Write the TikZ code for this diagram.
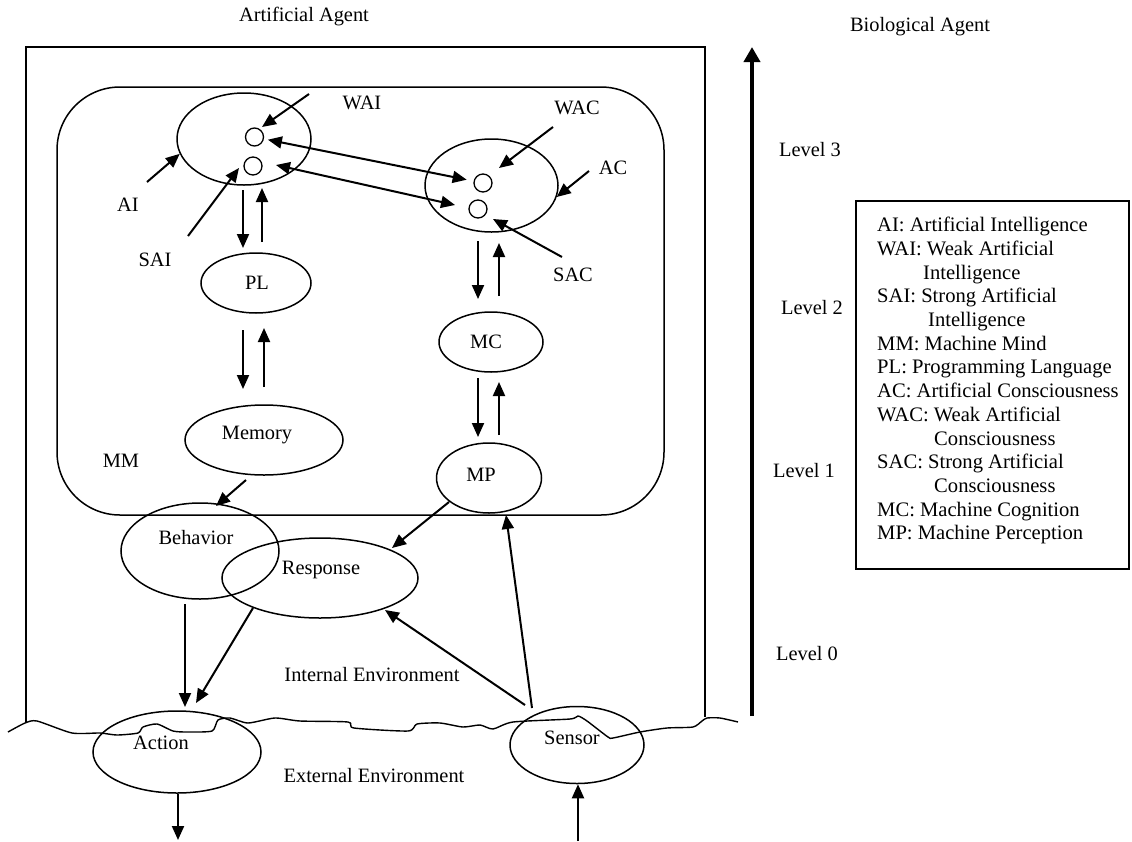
\documentclass[tikz,border=0pt]{standalone}
\usepackage{fontspec}
\setmainfont{Liberation Serif}
\usetikzlibrary{shapes.geometric,arrows.meta}
\begin{document}
\begin{tikzpicture}[x=1pt,y=-1pt,
  every node/.style={font=\fontsize{20.4}{24}\selectfont, inner sep=0pt},
  ell/.style={draw, ellipse, line width=1.5pt, inner sep=0pt},
  sm/.style={draw, circle, line width=1.3pt, minimum size=18pt, inner sep=0pt},
  arr/.style={line width=2pt, -{Triangle[length=14pt,width=12pt]}},
  darr/.style={line width=2pt, {Triangle[length=14pt,width=12pt]}-{Triangle[length=14pt,width=12pt]}},
  frame/.style={line width=1.3pt},
  bigarr/.style={line width=4.5pt, -{Triangle[length=15pt,width=16pt]}}]
\useasboundingbox (0,0) rectangle (1132,841);

% outer frame (open at bottom) and machine-mind box
\draw[frame] (26,723) -- (26,47) -- (705,47) -- (705,717);
\draw[line width=1.5pt, rounded corners=63pt] (57,87) rectangle (664,515);

% environment boundary
\draw[line width=1.4pt] plot[smooth, tension=0.4] coordinates {(8,732) (25,723) (37,721) (72,733) (100,733) (117,735) (138,733) (143,727) (157,724) (173,731) (187,732) (212,731) (218,720) (230,718) (248,723) (275,718) (300,721) (348,722) (354,728) (408,731) (417,724) (440,723) (463,727) (480,725) (493,729) (513,722) (570,719) (578,716) (587,721) (608,737) (613,738) (640,732) (667,728) (693,727) (702,721) (707,718) (720,718) (738,722)};

% titles
\node (tA) at (304,17) {Artificial Agent};
\node (tB) at (920,27) {Biological Agent};

% ellipses
\node[ell, minimum width=134pt, minimum height=92pt] (wai) at (244,139) {};
\node[ell, minimum width=133pt, minimum height=93pt] (wac) at (491.5,185.5) {};
\node[ell, minimum width=110pt, minimum height=60pt] (pl) at (256,283) {};
\node[ell, minimum width=104pt, minimum height=60pt] (mc) at (491,342) {};
\node[ell, minimum width=158pt, minimum height=70pt] (mem) at (264,440) {};
\node[ell, minimum width=105pt, minimum height=70pt] (mp) at (489,478) {};
\node[ell, minimum width=158pt, minimum height=96pt] (beh) at (200,551) {};
\node[ell, minimum width=196pt, minimum height=80pt] (resp) at (320,578) {};
\node[ell, minimum width=168pt, minimum height=82pt] (act) at (177,752) {};
\node[ell, minimum width=134pt, minimum height=77pt] (sen) at (577,745) {};

% small circles
\node[sm] (c1) at (254.5,137) {};
\node[sm] (c2) at (253,166) {};
\node[sm] (c3) at (483,183) {};
\node[sm] (c4) at (478,209) {};

% texts in nodes
\node (tPL) at (257,283) {PL};
\node (tMC) at (486,342) {MC};
\node (tMem) at (257,435) {Memory};
\node (tMP) at (481,475) {MP};
\node (tBeh) at (196,538) {Behavior};
\node (tResp) at (321,570) {Response};
\node (tAct) at (161,743) {Action};
\node (tSen) at (572,738) {Sensor};

% free labels
\node (lWAI) at (362,103) {WAI};
\node (lAI) at (128,205) {AI};
\node (lSAI) at (155,260) {SAI};
\node (lWAC) at (577,108) {WAC};
\node (lAC) at (613,168) {AC};
\node (lSAC) at (573,275) {SAC};
\node (lMM) at (121,461) {MM};
\node (lIE) at (372,675) {Internal Environment};
\node (lEE) at (374,776) {External Environment};

% levels
\draw[bigarr] (752,716) coordinate (lv0) -- (752,47) coordinate (lv3);
\node (L3) at (810,150) {Level 3};
\node (L2) at (812,308) {Level 2};
\node (L1) at (804,471) {Level 1};
\node (L0) at (807,654) {Level 0};

% legend
\draw[frame] (856,201) rectangle (1129,569);
\node[anchor=north west, align=left, font=\fontsize{20.6}{23.7}\selectfont] (leg) at (877,217) {%
AI: Artificial Intelligence\\
WAI: Weak Artificial\\
\hspace*{46pt}Intelligence\\
SAI: Strong Artificial\\
\hspace*{51pt}Intelligence\\
MM: Machine Mind\\
PL: Programming Language\\
AC: Artificial Consciousness\\
WAC: Weak Artificial\\
\hspace*{57pt}Consciousness\\
SAC: Strong Artificial\\
\hspace*{57pt}Consciousness\\
MC: Machine Cognition\\
MP: Machine Perception};

% arrow end coordinates
\coordinate (wS) at (309,94);   \coordinate (wT) at (262,127);
\coordinate (aS) at (147,182);
\coordinate (sS) at (188,236);  \coordinate (sT) at (239,168);
\coordinate (wcS) at (553,127); \coordinate (wcT) at (499,168);
\coordinate (acS) at (589,171);
\coordinate (scS) at (562,257); \coordinate (scT) at (493,219);

% labelled inputs
\draw[arr] (wS) -- (wT);
\draw[arr] (aS) -- (wai.193);
\draw[arr] (sS) -- (sT);
\draw[arr] (wcS) -- (wcT);
\draw[arr] (acS) -- (wac.-10);
\draw[arr] (scS) -- (scT);

% between AI and AC
\draw[darr, shorten <=4pt, shorten >=7pt] (c1) -- (c3);
\draw[darr] (276,165) coordinate (d1) -- (455,205) coordinate (d2);

% vertical pairs
\draw[arr] (243,190) coordinate (p1) -- (243,248) coordinate (p2);
\draw[arr] (262,242) coordinate (p3) -- (262,188) coordinate (p4);
\draw[arr] (243,330) coordinate (p5) -- (243,389) coordinate (p6);
\draw[arr] (264,387) coordinate (p7) -- (264,328) coordinate (p8);
\draw[arr] (478,241) coordinate (q1) -- (478,299) coordinate (q2);
\draw[arr] (499,296) coordinate (q3) -- (499,243) coordinate (q4);
\draw[arr] (478,378) coordinate (q5) -- (478,437) coordinate (q6);
\draw[arr] (499,435) coordinate (q7) -- (499,382) coordinate (q8);

% lower part
\coordinate (mb1) at (246,480); \coordinate (mb2) at (216,506);
\draw[arr] (mb1) -- (mb2);
\coordinate (mr1) at (449,502); \coordinate (mr2) at (392,548);
\draw[arr] (mr1) -- (mr2);
\coordinate (ba1) at (185,604); \coordinate (ba2) at (185,707);
\draw[arr] (ba1) -- (ba2);
\coordinate (ra1) at (253,608); \coordinate (ra2) at (196,703);
\draw[arr] (ra1) -- (ra2);
\coordinate (sr1) at (525,705); \coordinate (sr2) at (385,610);
\draw[arr] (sr1) -- (sr2);
\coordinate (sm1) at (532,708); \coordinate (sm2) at (506,515);
\draw[arr] (sm1) -- (sm2);
\coordinate (ao) at (178,840);
\draw[arr] (act.south -| ao) -- (ao);
\coordinate (si) at (578,841);
\draw[arr] (si) -- (sen.south -| si);
\end{tikzpicture}
\end{document}
